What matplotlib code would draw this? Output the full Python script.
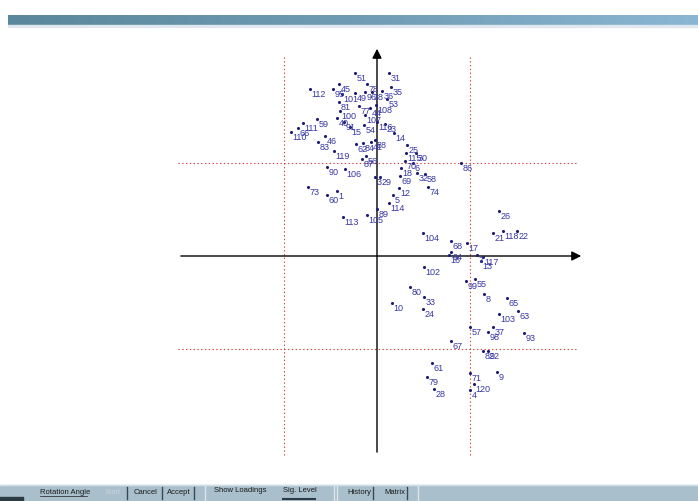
"""
Factor loading plot (rotation screen) with significance lines.
"""

import numpy as np
import matplotlib.pyplot as plt

# variable labels and their loadings on factor 1 (x) and factor 2 (y)
labels = ['51', '31', '78', '35', '45', '112', '95', '101', '49', '96',
          '38', '36', '53', '81', '100', '77', '108', '44', '40', '91',
          '107', '116', '23', '54', '15', '59', '111', '110', '66', '46',
          '83', '119', '14', '88', '62', '84', '41', '56', '87', '25',
          '115', '30', '70', '6', '18', '69', '32', '58', '74', '12',
          '5', '86', '90', '106', '3', '29', '73', '60', '1', '114',
          '89', '113', '105', '26', '104', '21', '118', '22', '68', '17',
          '94', '16', '7', '117', '13', '102', '99', '55', '80', '33',
          '10', '24', '8', '65', '103', '63', '57', '37', '98', '93',
          '67', '82', '92', '61', '79', '28', '71', '9', '120', '4']

loading_x = [-0.073, 0.040, -0.033, 0.047, -0.127, -0.223, -0.147, -0.117, -0.073, -0.040,
             -0.017, 0.017, 0.033, -0.127, -0.123, -0.060, -0.003, -0.023, -0.133, -0.110,
             -0.040, 0.000, 0.027, -0.043, -0.090, -0.200, -0.247, -0.287, -0.263, -0.173,
             -0.197, -0.143, 0.057, -0.007, -0.070, -0.047, -0.020, -0.037, -0.050, 0.100,
             0.097, 0.130, 0.093, 0.120, 0.080, 0.077, 0.133, 0.160, 0.170, 0.073,
             0.053, 0.280, -0.167, -0.107, -0.007, 0.010, -0.230, -0.167, -0.133, 0.040,
             0.000, -0.113, -0.033, 0.407, 0.153, 0.387, 0.420, 0.467, 0.247, 0.300,
             0.247, 0.240, 0.333, 0.353, 0.347, 0.157, 0.297, 0.327, 0.110, 0.157,
             0.050, 0.153, 0.357, 0.433, 0.407, 0.470, 0.310, 0.387, 0.370, 0.490,
             0.247, 0.353, 0.370, 0.183, 0.167, 0.190, 0.310, 0.400, 0.323, 0.310]

loading_y = [0.610, 0.610, 0.573, 0.563, 0.573, 0.557, 0.557, 0.540, 0.543, 0.547,
             0.547, 0.550, 0.523, 0.513, 0.483, 0.500, 0.503, 0.493, 0.460, 0.447,
             0.470, 0.447, 0.440, 0.437, 0.430, 0.457, 0.443, 0.413, 0.427, 0.400,
             0.380, 0.350, 0.410, 0.387, 0.373, 0.377, 0.380, 0.333, 0.323, 0.370,
             0.343, 0.343, 0.317, 0.310, 0.293, 0.267, 0.277, 0.273, 0.230, 0.227,
             0.203, 0.310, 0.297, 0.290, 0.263, 0.263, 0.230, 0.203, 0.217, 0.177,
             0.157, 0.130, 0.137, 0.150, 0.077, 0.077, 0.083, 0.083, 0.050, 0.043,
             0.013, 0.003, 0.003, -0.003, -0.017, -0.037, -0.083, -0.077, -0.103, -0.137,
             -0.157, -0.177, -0.127, -0.140, -0.193, -0.183, -0.237, -0.237, -0.253, -0.257,
             -0.283, -0.317, -0.317, -0.357, -0.403, -0.443, -0.390, -0.387, -0.427, -0.447]

sig_level = 0.31

W, H = 698, 501
fig = plt.figure(figsize=(W / 100, H / 100), dpi=100)
fig.patch.set_facecolor('white')

# window chrome: header band and bottom toolbar (pixel coordinates)
chrome = fig.add_axes([0, 0, 1, 1])
chrome.set_xlim(0, W)
chrome.set_ylim(H, 0)
chrome.axis('off')

grad = np.linspace(0, 1, 256)[None, :]
cmap = plt.matplotlib.colors.LinearSegmentedColormap.from_list('hdr', ['#5a879b', '#6f9cb4', '#8ab6d3'])
chrome.imshow(grad, extent=[8, W, 25, 15], cmap=cmap, aspect='auto', zorder=1)
chrome.fill_between([8, W], 25, 27, color='#dfe8ee', zorder=1)

chrome.fill_between([0, W], 485, H, color='#a9c0cc', zorder=1)
chrome.plot([0, W], [485, 485], color='#d4e0e7', lw=1, zorder=2)
chrome.fill_between([0, 23], 497, H, color='#2c3a44', zorder=2)

tb_font = dict(fontsize=5.5, family='Liberation Sans', va='center', zorder=3)
chrome.text(40, 492, 'Rotation Angle', color='#1a1a1a', **tb_font)
chrome.plot([40, 87], [496, 496], color='#1a1a1a', lw=0.5, zorder=3)
chrome.text(105, 492, 'Start', color='#c8d4da', **tb_font)
chrome.text(134, 492, 'Cancel', color='#1a1a1a', **tb_font)
chrome.text(167, 492, 'Accept', color='#1a1a1a', **tb_font)
chrome.text(214, 491, 'Show Loadings', color='#1a1a1a', **tb_font)
chrome.text(283, 491, 'Sig. Level', color='#1a1a1a', **tb_font)
chrome.plot([283, 315], [499, 499], color='#2c3a44', lw=1.5, zorder=3)
chrome.text(347, 492, 'History', color='#1a1a1a', **tb_font)
chrome.text(384, 492, 'Matrix', color='#1a1a1a', **tb_font)
for sx in [127, 162, 194, 373, 407]:
    chrome.plot([sx, sx], [487, 499], color='#3a4a55', lw=1, zorder=3)
for sx in [205, 334, 337, 418]:
    chrome.plot([sx, sx], [486, H], color='#dbe5ea', lw=1, zorder=3)

# loading plot axes, 300 px per loading unit, origin at pixel (377, 256)
ax = fig.add_axes([0, 0, 1, 1])
ax.set_xlim(-377 / 300, (W - 377) / 300)
ax.set_ylim(-(H - 256) / 300, 256 / 300)
ax.axis('off')
ax.patch.set_alpha(0)

# significance lines
red = '#d0403c'
for v in [-sig_level, sig_level]:
    ax.plot([v, v], [-0.663, 0.67], color=red, lw=0.8, ls=(0, (1.2, 2.2)))
    ax.plot([-0.663, 0.667], [v, v], color=red, lw=0.8, ls=(0, (1.2, 2.2)))

# axes with arrows
ax.annotate('', xy=(0.69, 0), xytext=(-0.663, 0),
            arrowprops=dict(arrowstyle='-|>', color='black', lw=1, mutation_scale=14))
ax.annotate('', xy=(0, 0.70), xytext=(0, -0.663),
            arrowprops=dict(arrowstyle='-|>', color='black', lw=1, mutation_scale=14))

# loadings
ax.scatter(loading_x, loading_y, s=5, color='#1c1c78', zorder=4, linewidths=0)
for lab, x, y in zip(labels, loading_x, loading_y):
    ax.annotate(lab, (x, y), xytext=(1.2, -0.8), textcoords='offset points',
                fontsize=6.5, family='Liberation Sans', color='#3636a6',
                ha='left', va='top', zorder=5)

fig.savefig('out.png', dpi=100)
